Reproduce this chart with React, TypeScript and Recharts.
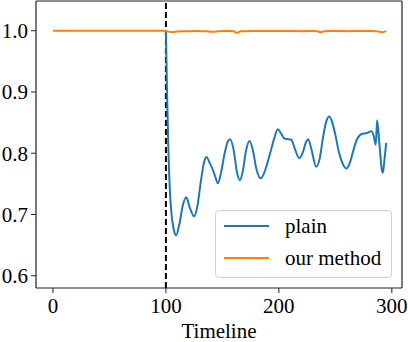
import React from "react";
import { LineChart, Line, XAxis, YAxis, ReferenceLine } from "recharts";

const C = {
  plain: "#1f77b4",
  ours: "#ff7f0e",
  spine: "#222",
  font: "'Liberation Serif', 'Times New Roman', serif",
};

// plain: accuracy after the switch at t=100
const plainT = [
  100, 101, 102, 103.5, 105, 107, 109, 112, 115, 118, 121, 125, 128, 131, 134, 136, 139, 142, 144,
  146, 149, 152, 155, 157, 160, 163, 165.5, 168, 171, 174, 177, 180, 184, 187, 190, 193, 196, 199,
  202, 205, 208, 211, 214, 218, 221, 224, 226, 229, 233, 236, 239, 242, 244.5, 247, 250, 253, 256,
  260, 263, 266, 269, 272, 275, 278, 282, 284, 285.8, 287, 289, 291, 292, 293.5, 295,
];
const plainV = [
  1.0, 0.9, 0.82, 0.74, 0.7, 0.675, 0.666, 0.685, 0.715, 0.728, 0.712, 0.697, 0.715, 0.755, 0.787,
  0.794, 0.783, 0.771, 0.76, 0.751, 0.77, 0.8, 0.82, 0.823, 0.805, 0.768, 0.756, 0.77, 0.805, 0.82,
  0.805, 0.775, 0.759, 0.768, 0.785, 0.805, 0.825, 0.839, 0.832, 0.824, 0.823, 0.822, 0.808, 0.792,
  0.8, 0.818, 0.823, 0.805, 0.778, 0.79, 0.825, 0.852, 0.86, 0.852, 0.83, 0.803, 0.785, 0.775, 0.785,
  0.805, 0.822, 0.83, 0.832, 0.833, 0.836, 0.828, 0.814, 0.854, 0.815, 0.775, 0.768, 0.79, 0.817,
];

// our method: stays at ~1.0
const oursT = [
  0, 100, 102, 105, 110, 115, 120, 125, 130, 135, 140, 143, 146, 150, 155, 160, 163, 166, 170, 180,
  190, 200, 210, 220, 230, 234, 237, 240, 245, 250, 260, 270, 280, 286, 290, 292, 295,
];
const oursV = [
  1.0, 1.0, 0.9985, 0.998, 0.9988, 0.9992, 0.999, 0.9995, 0.9993, 0.999, 0.9985, 0.9982, 0.999,
  0.9995, 0.9996, 0.999, 0.9965, 0.999, 0.9993, 0.9995, 0.9997, 0.9995, 0.9994, 0.9993, 0.9995,
  0.999, 0.9975, 0.999, 0.9995, 0.9996, 0.9992, 0.9995, 0.9994, 0.9993, 0.998, 0.9975, 0.9992,
];

const xTicks = [0, 100, 200, 300];
const yTicks = [0.6, 0.7, 0.8, 0.9, 1.0];
const X_DOMAIN = [-15, 309];
const Y_DOMAIN = [0.58, 1.0485];

const allT = Array.from(new Set([...plainT, ...oursT])).sort((a, b) => a - b);
const data = allT.map((t) => {
  const pi = plainT.indexOf(t);
  const oi = oursT.indexOf(t);
  return {
    t,
    plain: pi >= 0 ? plainV[pi] : undefined,
    ours: oi >= 0 ? oursV[oi] : undefined,
  };
});

const tickStyle = { fontSize: 21, fill: "#000", fontFamily: C.font };

function LegendBox() {
  const rows = [
    { label: "plain", color: C.plain },
    { label: "our method", color: C.ours },
  ];
  return (
    <div
      style={{
        position: "absolute",
        left: 215,
        top: 210,
        width: 175,
        height: 66,
        border: "1px solid #d0d0d0",
        borderRadius: 4,
        background: "rgba(255,255,255,0.8)",
        fontFamily: C.font,
        fontSize: 21,
        color: "#000",
      }}
    >
      {rows.map((r, i) => (
        <div key={r.label} style={{ position: "absolute", left: 8, top: 1 + i * 32, height: 28, display: "flex", alignItems: "center" }}>
          <div style={{ width: 45, height: 2, background: r.color }} />
          <span style={{ marginLeft: 16, whiteSpace: "nowrap" }}>{r.label}</span>
        </div>
      ))}
    </div>
  );
}

export default function App() {
  return (
    <div style={{ position: "absolute", left: 0, top: 0, width: 408, height: 342, background: "#fff" }}>
      <LineChart width={408} height={342} data={data} margin={{ top: 1, right: 6, left: 0, bottom: 0 }}>
        <XAxis
          dataKey="t"
          type="number"
          domain={X_DOMAIN}
          allowDataOverflow
          ticks={xTicks}
          tick={tickStyle}
          tickSize={5}
          tickMargin={5}
          height={54}
          axisLine={{ stroke: C.spine, strokeWidth: 1.2 }}
          tickLine={{ stroke: C.spine }}
          label={{ value: "Timeline", position: "insideBottom", offset: 4, style: tickStyle }}
        />
        <YAxis
          type="number"
          domain={Y_DOMAIN}
          allowDataOverflow
          ticks={yTicks}
          tickFormatter={(v: number) => v.toFixed(1)}
          tick={tickStyle}
          tickSize={5}
          tickMargin={3}
          width={36}
          axisLine={{ stroke: C.spine, strokeWidth: 1.2 }}
          tickLine={{ stroke: C.spine }}
        />
        <ReferenceLine y={Y_DOMAIN[1]} stroke={C.spine} strokeWidth={1.2} />
        <ReferenceLine x={X_DOMAIN[1]} stroke={C.spine} strokeWidth={1.2} />
        <ReferenceLine x={100} stroke="#000" strokeWidth={2} strokeDasharray="6 3" />
        <Line
          dataKey="plain"
          type="monotone"
          stroke={C.plain}
          strokeWidth={2}
          dot={false}
          connectNulls
          isAnimationActive={false}
        />
        <Line
          dataKey="ours"
          type="monotone"
          stroke={C.ours}
          strokeWidth={2}
          dot={false}
          connectNulls
          isAnimationActive={false}
        />
      </LineChart>
      <LegendBox />
    </div>
  );
}
